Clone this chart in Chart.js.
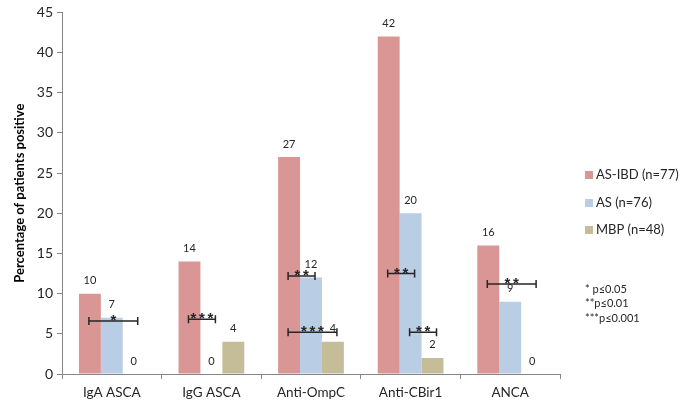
<!DOCTYPE html>
<html>
<head>
<meta charset="utf-8">
<script src="https://cdn.jsdelivr.net/npm/chart.js@4.4.1/dist/chart.umd.min.js"></script>
<style>
  html, body { margin: 0; padding: 0; background: #fff; overflow: hidden; }
  #wrap { width: 685px; height: 406px; position: relative; }
</style>
</head>
<body>
<div id="wrap"><canvas id="c" width="685" height="406"></canvas></div>
<script>
const categories = ["IgA ASCA", "IgG ASCA", "Anti-OmpC", "Anti-CBir1", "ANCA"];
const seriesNames = ["AS-IBD (n=77)", "AS (n=76)", "MBP (n=48)"];
const asIbd = [10, 14, 27, 42, 16];
const asOnly = [7, 0, 12, 20, 9];
const mbp = [0, 4, 4, 2, 0];
const yTicks = [0, 5, 10, 15, 20, 25, 30, 35, 40, 45];
// significance brackets: category index, from series, to series, y value, stars
const bracketCat = [0, 1, 2, 2, 3, 3, 4];
const bracketFrom = [0, 0, 0, 0, 0, 1, 0];
const bracketTo = [2, 1, 1, 2, 1, 2, 2];
const bracketY = [6.6, 6.8, 12.2, 5.2, 12.5, 5.2, 11.2];
const bracketStars = ["*", "***", "**", "***", "**", "**", "**"];
const notes = ["* p\u22640.05", "**p\u22640.01", "***p\u22640.001"];

const colors = ["#D99694", "#B9CDE5", "#C4BD97"];
const FONT = "Lato, 'Open Sans', sans-serif";
const TEXT = "#262626";

const valueLabels = {
  id: 'valueLabels',
  afterDatasetsDraw(chart) {
    const ctx = chart.ctx;
    ctx.save();
    ctx.font = "11px " + FONT;
    ctx.fillStyle = TEXT;
    ctx.textAlign = 'center';
    ctx.textBaseline = 'middle';
    chart.data.datasets.forEach((ds, i) => {
      const meta = chart.getDatasetMeta(i);
      meta.data.forEach((bar, j) => {
        ctx.fillText(String(ds.data[j]), bar.x, bar.y - 13);
      });
    });
    ctx.restore();
  }
};

const brackets = {
  id: 'brackets',
  afterDatasetsDraw(chart) {
    const ctx = chart.ctx;
    const ys = chart.scales.y;
    ctx.save();
    ctx.strokeStyle = "#262626";
    ctx.fillStyle = "#262626";
    ctx.lineWidth = 1.5;
    for (let k = 0; k < bracketCat.length; k++) {
      const a = chart.getDatasetMeta(bracketFrom[k]).data[bracketCat[k]];
      const b = chart.getDatasetMeta(bracketTo[k]).data[bracketCat[k]];
      const x1 = a.x - 1, x2 = b.x + 4;
      const y = ys.getPixelForValue(bracketY[k]);
      ctx.beginPath();
      ctx.moveTo(x1, y); ctx.lineTo(x2, y);
      ctx.moveTo(x1, y - 4); ctx.lineTo(x1, y + 4);
      ctx.moveTo(x2, y - 4); ctx.lineTo(x2, y + 4);
      ctx.stroke();
      const n = bracketStars[k].length;
      const sp = 8.5;
      const mid = (x1 + x2) / 2;
      ctx.font = "bold 15px 'Liberation Sans', Arial, sans-serif";
      ctx.textAlign = 'center';
      ctx.textBaseline = 'alphabetic';
      for (let s = 0; s < n; s++) {
        const sx = mid + (s - (n - 1) / 2) * sp;
        ctx.fillText("*", sx, y + 4);
      }
    }
    ctx.restore();
  }
};

const sideLegend = {
  id: 'sideLegend',
  afterDraw(chart) {
    const ctx = chart.ctx;
    ctx.save();
    const ys = [175, 203, 230];
    ctx.font = "13px " + FONT;
    ctx.textBaseline = 'middle';
    ctx.textAlign = 'left';
    for (let i = 0; i < seriesNames.length; i++) {
      ctx.fillStyle = colors[i];
      ctx.fillRect(585, ys[i] - 4, 8, 8);
      ctx.fillStyle = TEXT;
      ctx.fillText(seriesNames[i], 596, ys[i]);
    }
    ctx.font = "11px " + FONT;
    const ny = [289, 303, 318];
    for (let i = 0; i < notes.length; i++) {
      ctx.fillText(notes[i], 585, ny[i]);
    }
    ctx.restore();
  }
};

new Chart(document.getElementById('c'), {
  type: 'bar',
  data: {
    labels: categories,
    datasets: [
      { label: seriesNames[0], data: asIbd, backgroundColor: colors[0] },
      { label: seriesNames[1], data: asOnly, backgroundColor: colors[1] },
      { label: seriesNames[2], data: mbp, backgroundColor: colors[2] }
    ]
  },
  options: {
    responsive: false,
    animation: false,
    devicePixelRatio: 1,
    layout: { padding: { top: 11, right: 125, bottom: 0, left: 0 } },
    datasets: { bar: { categoryPercentage: 0.66, barPercentage: 1.0 } },
    plugins: {
      legend: { display: false },
      tooltip: { enabled: false }
    },
    scales: {
      x: {
        grid: { display: true, drawOnChartArea: false, drawTicks: true, tickLength: 5, color: "#868686", offset: true },
        border: { display: true, color: "#868686", width: 1 },
        ticks: { font: { family: FONT, size: 13.5 }, color: TEXT, padding: 6, maxRotation: 0 },
        afterFit(s) { s.height = 32; }
      },
      y: {
        min: 0, max: 45,
        afterBuildTicks(s) { s.ticks = yTicks.map(v => ({ value: v })); },
        grid: { display: true, drawOnChartArea: false, drawTicks: true, tickLength: 5, color: "#868686" },
        border: { display: true, color: "#868686", width: 1 },
        ticks: { font: { family: FONT, size: 14 }, color: TEXT, padding: 4 },
        title: {
          display: true,
          text: "Percentage of patients positive",
          font: { family: FONT, size: 13, weight: 'bold' },
          color: "#000",
          padding: { top: 12, bottom: 0 }
        },
        afterFit(s) { s.width = 62; }
      }
    }
  },
  plugins: [valueLabels, brackets, sideLegend]
});
</script>
</body>
</html>
